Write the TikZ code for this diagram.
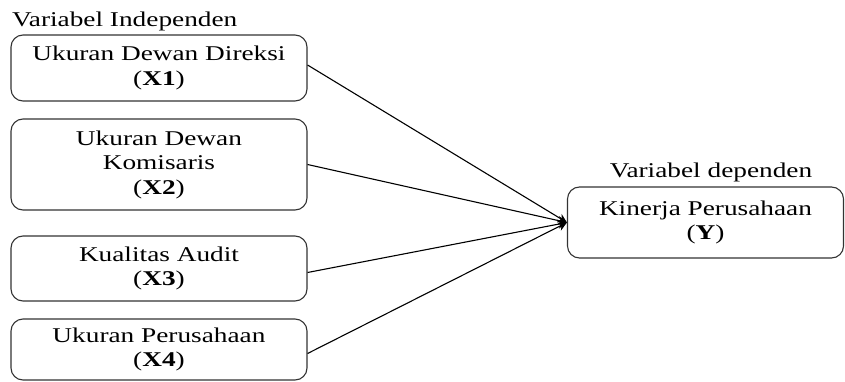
\documentclass[tikz,border=0pt]{standalone}
\usepackage{fontspec}
\setmainfont[FakeStretch=1.3]{Liberation Serif}
\usetikzlibrary{arrows.meta}
\tikzset{
  varbox/.style={draw=black!80, line width=1.1pt, rounded corners=12pt, align=center,
    inner sep=0pt, font=\fontsize{21}{24.5}\selectfont, text=black},
  lbl/.style={inner sep=0pt, font=\fontsize{21}{24.5}\selectfont, text=black},
  conn/.style={line width=1.1pt, -{Stealth[length=9pt,width=9pt]}}
}
\begin{document}
\begin{tikzpicture}[x=1pt,y=1pt]
\useasboundingbox (0,0) rectangle (845,381);
\node[lbl, anchor=base west] (li) at (12,354) {Variabel Independen};
\node[varbox, minimum width=296pt, minimum height=66pt] (x1) at (159,313) {Ukuran Dewan Direksi\\(\textbf{X1})};
\node[varbox, minimum width=296pt, minimum height=91pt] (x2) at (159,216.5) {Ukuran Dewan\\Komisaris\\(\textbf{X2})};
\node[varbox, minimum width=296pt, minimum height=65pt] (x3) at (159,112.5) {Kualitas Audit\\(\textbf{X3})};
\node[varbox, minimum width=296pt, minimum height=61pt] (x4) at (159,31.5) {Ukuran Perusahaan\\(\textbf{X4})};
\node[varbox, minimum width=276pt, minimum height=71pt] (y) at (705.5,158.5) {Kinerja Perusahaan\\(\textbf{Y})};
\node[lbl, anchor=base] (ld) at (711,204) {Variabel dependen};
\draw[conn] ([yshift=3pt]x1.east) -- (y.west);
\draw[conn] (x2.east) -- (y.west);
\draw[conn] ([yshift=-4pt]x3.east) -- (y.west);
\draw[conn] ([yshift=-4pt]x4.east) -- (y.west);
\end{tikzpicture}
\end{document}
